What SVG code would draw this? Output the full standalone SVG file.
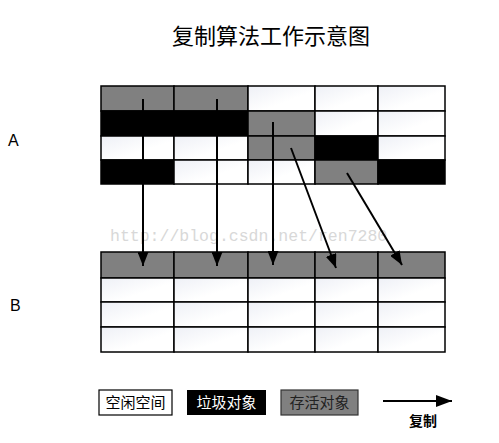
<svg xmlns="http://www.w3.org/2000/svg" width="499" height="443" viewBox="0 0 499 443">
<defs>
<linearGradient id="wg" x1="0" y1="0" x2="1" y2="1">
<stop offset="0" stop-color="#eef0f6"/>
<stop offset="0.6" stop-color="#ffffff"/>
</linearGradient>
<marker id="ah" viewBox="0 0 14 11" refX="14" refY="5.5" markerWidth="14" markerHeight="11" markerUnits="userSpaceOnUse" orient="auto">
<path d="M0,0 L14,5.5 L0,11 Z" fill="#000"/>
</marker>
<marker id="ah2" viewBox="0 0 16 12" refX="16" refY="6" markerWidth="16" markerHeight="12" markerUnits="userSpaceOnUse" orient="auto">
<path d="M0,0 L16,6 L0,12 Z" fill="#000"/>
</marker>
</defs>
<style>
.w{fill:url(#wg);stroke:#000;stroke-width:1.5}
.g{fill:#808080;stroke:#000;stroke-width:1.5}
.k{fill:#000;stroke:#000;stroke-width:1.5}
.t{font-family:"Noto Sans CJK SC","Liberation Sans",sans-serif;fill:#000}
.c{stroke:#000;stroke-width:2;fill:none}
</style>
<rect width="499" height="443" fill="#fff"/>
<g id="title"><text class="t" x="271" y="44" font-size="22" text-anchor="middle">复制算法工作示意图</text></g>
<g id="labelA"><text x="8" y="146" font-family="Liberation Sans,sans-serif" font-size="16">A</text></g>
<g id="labelB"><text x="10" y="311" font-family="Liberation Sans,sans-serif" font-size="16">B</text></g>
<g id="gridA">
<rect class="g" x="101" y="86" width="73" height="25"/>
<rect class="g" x="174" y="86" width="74" height="25"/>
<rect class="w" x="248" y="86" width="67" height="25"/>
<rect class="w" x="315" y="86" width="63" height="25"/>
<rect class="w" x="378" y="86" width="67" height="25"/>
<rect class="k" x="101" y="111" width="147" height="25"/>
<rect class="g" x="248" y="111" width="67" height="25"/>
<rect class="w" x="315" y="111" width="63" height="25"/>
<rect class="w" x="378" y="111" width="67" height="25"/>
<rect class="w" x="101" y="136" width="73" height="24"/>
<rect class="w" x="174" y="136" width="74" height="24"/>
<rect class="g" x="248" y="136" width="67" height="24"/>
<rect class="k" x="315" y="136" width="63" height="24"/>
<rect class="w" x="378" y="136" width="67" height="24"/>
<rect class="k" x="101" y="160" width="73" height="24"/>
<rect class="w" x="174" y="160" width="74" height="24"/>
<rect class="w" x="248" y="160" width="67" height="24"/>
<rect class="g" x="315" y="160" width="63" height="24"/>
<rect class="k" x="378" y="160" width="67" height="24"/>
</g>
<g id="gridB">
<rect class="g" x="101" y="252" width="73" height="26"/>
<rect class="g" x="174" y="252" width="74" height="26"/>
<rect class="g" x="248" y="252" width="67" height="26"/>
<rect class="g" x="315" y="252" width="63" height="26"/>
<rect class="g" x="378" y="252" width="67" height="26"/>
<rect class="w" x="101" y="278" width="73" height="24"/>
<rect class="w" x="174" y="278" width="74" height="24"/>
<rect class="w" x="248" y="278" width="67" height="24"/>
<rect class="w" x="315" y="278" width="63" height="24"/>
<rect class="w" x="378" y="278" width="67" height="24"/>
<rect class="w" x="101" y="302" width="73" height="25"/>
<rect class="w" x="174" y="302" width="74" height="25"/>
<rect class="w" x="248" y="302" width="67" height="25"/>
<rect class="w" x="315" y="302" width="63" height="25"/>
<rect class="w" x="378" y="302" width="67" height="25"/>
<rect class="w" x="101" y="327" width="73" height="25"/>
<rect class="w" x="174" y="327" width="74" height="25"/>
<rect class="w" x="248" y="327" width="67" height="25"/>
<rect class="w" x="315" y="327" width="63" height="25"/>
<rect class="w" x="378" y="327" width="67" height="25"/>
</g>
<g id="watermark"><text x="110" y="241" font-family="Liberation Mono,monospace" font-size="16.5" fill="#d8d8d8">http://blog.csdn.net/ren7280</text></g>
<g id="connectors">
<line class="c" x1="143" y1="99" x2="143" y2="266" marker-end="url(#ah)"/>
<line class="c" x1="217" y1="99" x2="217" y2="266" marker-end="url(#ah)"/>
<line class="c" x1="273" y1="122" x2="273" y2="265" marker-end="url(#ah)"/>
<line class="c" x1="291" y1="148" x2="336" y2="268" marker-end="url(#ah)"/>
<line class="c" x1="347" y1="173" x2="402" y2="265" marker-end="url(#ah)"/>
</g>
<g id="legend-free">
<rect x="99" y="390" width="73" height="25" fill="#fff" stroke="#000" stroke-width="1.2"/>
<text class="t" x="135.5" y="408" font-size="15" text-anchor="middle">空闲空间</text>
</g>
<g id="legend-garbage">
<rect x="187" y="390" width="79" height="25" fill="#000"/>
<text class="t" x="226.5" y="408" font-size="15" text-anchor="middle" style="fill:#fff">垃圾对象</text>
</g>
<g id="legend-live">
<rect x="281" y="390" width="77" height="25" fill="#808080" stroke="#333" stroke-width="1.2"/>
<text class="t" x="319.5" y="408" font-size="15" text-anchor="middle" style="fill:#222">存活对象</text>
</g>
<g id="legend-copy">
<line class="c" x1="383" y1="401" x2="452" y2="401" stroke-width="2.5" marker-end="url(#ah2)"/>
<text class="t" x="423" y="426" font-size="14" font-weight="bold" text-anchor="middle">复制</text>
</g>
</svg>
